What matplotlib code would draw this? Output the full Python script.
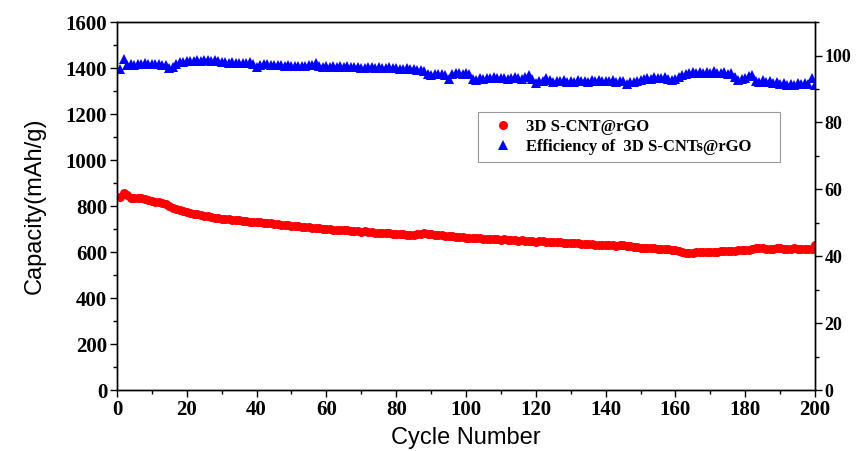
import numpy as np
import matplotlib.pyplot as plt
from matplotlib.ticker import MultipleLocator

# capacity (mAh/g), cycles 1..200
capacity = [
    840, 856, 848, 836, 836, 835, 834, 830, 827, 824,
    820, 818, 815, 810, 800, 793, 786, 781, 777, 773,
    770, 767, 764, 761, 759, 756, 753, 750, 748, 746,
    744, 742, 740, 738, 740, 736, 734, 733, 732, 733,
    730, 728, 726, 725, 723, 721, 720, 718, 716, 715,
    714, 712, 710, 709, 708, 706, 705, 703, 702, 700,
    699, 698, 697, 697, 695, 694, 692, 691, 690, 688,
    690, 687, 686, 685, 684, 683, 682, 681, 680, 679,
    678, 677, 676, 675, 676, 678, 680, 682, 680, 678,
    676, 675, 673, 671, 670, 668, 667, 666, 664, 662,
    662, 661, 660, 661, 659, 658, 657, 656, 655, 654,
    656, 653, 652, 651, 650, 652, 649, 648, 647, 646,
    650, 648, 646, 645, 644, 643, 642, 641, 640, 639,
    641, 638, 637, 636, 635, 634, 633, 632, 631, 630,
    630, 629, 628, 629, 630, 627, 626, 624, 622, 620,
    619, 618, 617, 616, 615, 614, 614, 613, 611, 608,
    604, 600, 598, 597, 598, 599, 600, 599, 600, 601,
    602, 601, 603, 604, 605, 606, 605, 607, 610, 611,
    608, 612, 620, 618, 616, 615, 614, 615, 616, 617,
    615, 614, 615, 616, 614, 613, 615, 614, 613, 630,
]

# coulombic efficiency (%), cycles 1..200
efficiency = [
    96.0, 99.0, 97.2, 97.5, 97.3, 97.6, 97.4, 97.7, 97.5, 97.6,
    97.4, 97.5, 97.3, 97.2, 96.3, 96.5, 97.5, 98.0, 98.2, 98.3,
    98.5, 98.4, 98.6, 98.5, 98.7, 98.6, 98.5, 98.6, 98.4, 98.2,
    98.0, 97.9, 98.0, 97.8, 97.9, 97.7, 97.8, 98.0, 97.6, 96.6,
    97.3, 97.5, 97.4, 97.3, 97.2, 97.3, 97.1, 97.0, 97.2, 97.0,
    96.9, 97.0, 96.8, 97.0, 97.1, 97.3, 97.9, 96.8, 96.6, 96.8,
    96.7, 96.9, 96.6, 96.8, 96.7, 96.9, 96.6, 96.5, 96.7, 96.4,
    96.3, 96.6, 96.5, 96.2, 96.6, 96.4, 96.3, 96.5, 96.2, 96.3,
    96.1, 96.0, 96.2, 95.9, 96.0, 95.7, 95.8, 95.3, 94.5, 94.3,
    94.5, 94.4, 94.6, 94.3, 93.0, 94.6, 94.8, 94.9, 94.6, 94.8,
    94.5, 93.0, 92.8, 93.3, 93.1, 93.4, 93.2, 93.5, 93.3, 93.2,
    93.4, 93.1, 93.3, 93.5, 93.2, 93.0, 93.6, 94.2, 93.0, 91.8,
    92.5, 92.3, 93.4, 92.8, 92.2, 92.5, 92.3, 92.6, 92.1, 92.4,
    92.2, 92.6, 92.3, 92.5, 92.2, 92.7, 92.4, 92.6, 92.3, 92.5,
    92.3, 92.6, 92.2, 92.4, 92.5, 91.6, 92.0, 92.2, 92.5, 92.7,
    93.0, 93.3, 93.1, 93.6, 93.4, 93.2, 93.5, 93.1, 92.8, 93.0,
    93.5, 94.2, 94.6, 94.9, 95.0, 94.8, 95.2, 94.9, 95.1, 94.8,
    95.3, 94.9, 94.7, 95.0, 94.6, 94.9, 93.5, 92.7, 93.0, 93.4,
    93.8, 94.3, 92.5, 92.2, 92.6, 92.1, 92.3, 91.8, 92.2, 91.5,
    91.7, 91.2, 91.6, 91.3, 91.7, 91.4, 91.8, 91.5, 93.3, 91.2,
]
cycles = np.arange(1, len(capacity) + 1)

tick_font = {'family': 'Liberation Serif', 'weight': 'bold', 'size': 15}
right_font = {'family': 'Liberation Serif', 'weight': 'bold', 'size': 13}

fig, ax = plt.subplots(figsize=(8.57, 4.51), dpi=100)
plt.subplots_adjust(left=0.1365, right=0.951, bottom=0.135, top=0.951)
ax2 = ax.twinx()

l1, = ax.plot(cycles, capacity, 'o', color='#ff0000', markersize=6.5,
              markeredgewidth=0, label='3D S-CNT@rGO')
l2, = ax2.plot(cycles, efficiency, '^', color='#0000ff', markersize=7,
               markeredgewidth=0, label='Efficiency of  3D S-CNTs@rGO')

ax.set_xlim(0, 200)
ax.set_ylim(0, 1600)
ax2.set_ylim(0, 110)

ax.xaxis.set_major_locator(MultipleLocator(20))
ax.xaxis.set_minor_locator(MultipleLocator(10))
ax.yaxis.set_major_locator(MultipleLocator(200))
ax.yaxis.set_minor_locator(MultipleLocator(100))
ax2.yaxis.set_major_locator(MultipleLocator(20))
ax2.yaxis.set_minor_locator(MultipleLocator(10))

for a in (ax, ax2):
    a.tick_params(which='major', direction='out', length=5, width=1, pad=2)
    a.tick_params(which='minor', direction='out', length=3, width=1)
    for s in a.spines.values():
        s.set_linewidth(1)
for lab in ax.get_xticklabels() + ax.get_yticklabels():
    lab.set_fontproperties(tick_font)
for lab in ax2.get_yticklabels():
    lab.set_fontproperties(right_font)
ax.tick_params(top=False, which='both')

ax.set_xlabel('Cycle Number', family='Liberation Sans', fontsize=17, labelpad=5)
ax.set_ylabel('Capacity(mAh/g)', family='Liberation Sans', fontsize=17, labelpad=14)

leg = ax2.legend(handles=[l1, l2], loc='upper left',
                 bbox_to_anchor=(0.517, 0.62, 0.433, 0.135), mode='expand',
                 prop={'family': 'Liberation Serif', 'weight': 'bold', 'size': 12},
                 frameon=True, fancybox=False, edgecolor='#808080',
                 handletextpad=0.3, borderpad=0.4, labelspacing=0.25,
                 handlelength=2.2, borderaxespad=0)
leg.get_frame().set_linewidth(0.8)

plt.savefig('out.png', dpi=100)
